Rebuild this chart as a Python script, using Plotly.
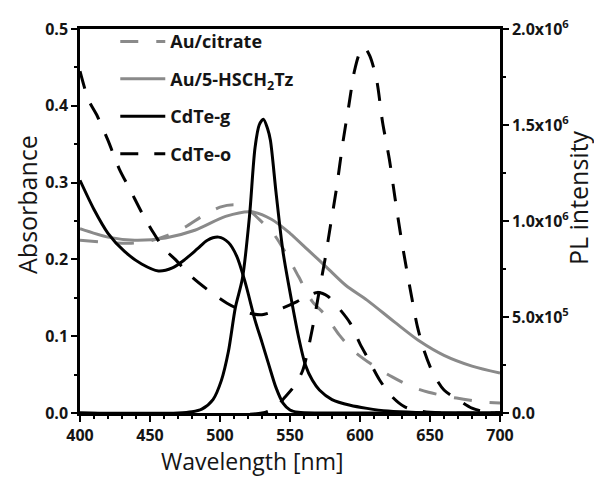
import plotly.graph_objects as go

# ---- data (wavelength nm, absorbance) ----
au_cit_x = [400, 420, 435, 450, 462, 475, 488, 500, 510, 518, 528, 538, 548, 556, 566, 575, 585, 596, 611, 623, 637, 649, 664, 674, 689, 700]
au_cit_y = [0.225, 0.222, 0.221, 0.224, 0.231, 0.242, 0.257, 0.268, 0.271, 0.268, 0.252, 0.234, 0.205, 0.178, 0.145, 0.128, 0.102, 0.080, 0.060, 0.047, 0.034, 0.027, 0.021, 0.018, 0.014, 0.013]

au_tz_x = [400, 420, 439, 461, 482, 504, 522, 537, 550, 563, 576, 590, 605, 625, 643, 660, 680, 700]
au_tz_y = [0.240, 0.229, 0.225, 0.228, 0.238, 0.256, 0.262, 0.252, 0.234, 0.212, 0.190, 0.166, 0.147, 0.118, 0.093, 0.075, 0.061, 0.052]

cdte_g_abs_x = [400, 410, 420, 432, 444, 456, 466, 475, 484, 491, 499, 506, 512, 518, 525, 530, 535, 540, 545, 550, 556, 570, 600, 700]
cdte_g_abs_y = [0.303, 0.265, 0.234, 0.210, 0.194, 0.185, 0.189, 0.200, 0.214, 0.225, 0.229, 0.222, 0.204, 0.170, 0.121, 0.092, 0.062, 0.033, 0.013, 0.004, 0.001, 0.0, 0.0, 0.0]

cdte_o_abs_x = [400, 406, 412, 420, 428, 436, 445, 452, 460, 468, 480, 493, 505, 519, 530, 545, 555, 563, 570, 577, 586, 593, 600, 606, 614, 623, 632, 645, 660, 700]
cdte_o_abs_y = [0.445, 0.408, 0.388, 0.355, 0.318, 0.290, 0.258, 0.236, 0.214, 0.200, 0.177, 0.158, 0.143, 0.131, 0.128, 0.137, 0.145, 0.153, 0.157, 0.152, 0.134, 0.117, 0.090, 0.070, 0.043, 0.021, 0.008, 0.002, 0.0, 0.0]

# ---- PL data (wavelength nm, PL intensity) ----
cdte_g_pl_x = [400, 470, 480, 487, 495, 501, 506, 511, 516, 521, 525, 528, 531, 534, 536, 540, 545, 551, 556, 561, 566, 571, 580, 593, 605, 620, 640, 700]
cdte_g_pl_y = [0, 0, 0.006e6, 0.02e6, 0.07e6, 0.17e6, 0.32e6, 0.55e6, 0.70e6, 1.02e6, 1.38e6, 1.50e6, 1.53e6, 1.48e6, 1.42e6, 1.15e6, 0.84e6, 0.59e6, 0.40e6, 0.25e6, 0.17e6, 0.12e6, 0.07e6, 0.04e6, 0.024e6, 0.01e6, 0.003e6, 0]

cdte_o_pl_x = [400, 530, 540, 546, 552, 559, 566, 571, 575, 579, 583, 588, 592, 596, 600, 603, 607, 612, 616, 621, 625, 629, 633, 637, 641, 646, 652, 660, 671, 680, 690, 700]
cdte_o_pl_y = [0, 0, 0.03e6, 0.08e6, 0.13e6, 0.22e6, 0.44e6, 0.64e6, 0.80e6, 0.98e6, 1.16e6, 1.42e6, 1.60e6, 1.78e6, 1.88e6, 1.905e6, 1.86e6, 1.73e6, 1.52e6, 1.32e6, 1.12e6, 0.93e6, 0.76e6, 0.60e6, 0.45e6, 0.32e6, 0.21e6, 0.12e6, 0.065e6, 0.025e6, 0.005e6, 0]

x_ticks = [400, 450, 500, 550, 600, 650, 700]
y_ticks = [0.0, 0.1, 0.2, 0.3, 0.4, 0.5]
y2_vals = [0, 5e5, 1e6, 1.5e6, 2e6]
y2_text = ["0.0", "5.0x10<sup>5</sup>", "1.0x10<sup>6</sup>", "1.5x10<sup>6</sup>", "2.0x10<sup>6</sup>"]

x_title = "Wavelength [nm]"
y_title = "Absorbance"
y2_title = "PL intensity"

GRAY = "#8a8a8a"
BLACK = "#000000"
TXT = "#151515"
FONT = "Open Sans"
LW = 3

fig = go.Figure()

fig.add_trace(go.Scatter(x=au_cit_x, y=au_cit_y, mode="lines", name="Au/citrate",
                         line=dict(color=GRAY, width=LW, dash="18px,18px", shape="spline", smoothing=0.8),
                         legendgroup="a"))
fig.add_trace(go.Scatter(x=au_tz_x, y=au_tz_y, mode="lines", name="Au/5-HSCH<sub>2</sub>Tz",
                         line=dict(color=GRAY, width=LW, shape="spline", smoothing=0.8),
                         legendgroup="b"))
fig.add_trace(go.Scatter(x=cdte_g_abs_x, y=cdte_g_abs_y, mode="lines", name="CdTe-g",
                         line=dict(color=BLACK, width=LW, shape="spline", smoothing=0.8),
                         legendgroup="c"))
fig.add_trace(go.Scatter(x=cdte_o_abs_x, y=cdte_o_abs_y, mode="lines", name="CdTe-o",
                         line=dict(color=BLACK, width=LW, dash="18px,16px", shape="spline", smoothing=0.8),
                         legendgroup="d"))
fig.add_trace(go.Scatter(x=cdte_g_pl_x, y=cdte_g_pl_y, mode="lines", name="CdTe-g PL", yaxis="y2",
                         line=dict(color=BLACK, width=LW, shape="spline", smoothing=0.8),
                         showlegend=False, legendgroup="c"))
fig.add_trace(go.Scatter(x=cdte_o_pl_x, y=cdte_o_pl_y, mode="lines", name="CdTe-o PL", yaxis="y2",
                         line=dict(color=BLACK, width=LW, dash="18px,16px", shape="spline", smoothing=0.8),
                         showlegend=False, legendgroup="d"))

tickfont = dict(family=FONT, size=16, color=TXT, weight="bold")

# axis titles (placed slightly off-centre, as in the original figure)
fig.add_annotation(text=x_title, xref="paper", yref="paper", x=0.4095, y=-0.125,
                   xanchor="center", yanchor="middle", showarrow=False,
                   font=dict(family=FONT, size=23, color=TXT))
fig.add_annotation(text=y_title, xref="paper", yref="paper", x=-0.126, y=0.542,
                   xanchor="center", yanchor="middle", showarrow=False, textangle=-90,
                   font=dict(family=FONT, size=25, color=TXT))
fig.add_annotation(text=y2_title, xref="paper", yref="paper", x=1.186, y=0.56,
                   xanchor="center", yanchor="middle", showarrow=False, textangle=-90,
                   font=dict(family=FONT, size=25, color=TXT))

# page body has an 8px margin; figure offset accordingly so the plot sits where the original does
fig.update_layout(
    width=594, height=470,
    margin=dict(l=72, r=102, t=21, b=65, autoexpand=False),
    paper_bgcolor="white", plot_bgcolor="white",
    showlegend=True,
    legend=dict(x=0.084, y=1.015, xanchor="left", yanchor="top",
                font=dict(family=FONT, size=18, color=TXT, weight="bold"),
                bgcolor="rgba(0,0,0,0)", tracegroupgap=11, itemwidth=45,
                traceorder="grouped"),
    xaxis=dict(range=[400, 700], tickvals=x_ticks, showgrid=False, zeroline=False, automargin=False,
               showline=True, linecolor=BLACK, linewidth=2.5, mirror=True,
               ticks="outside", ticklen=6, tickwidth=2, tickcolor=BLACK,
               minor=dict(dtick=10, ticks="outside", ticklen=3, tickwidth=1.5, tickcolor=BLACK),
               tickfont=tickfont),
    yaxis=dict(range=[0, 0.5], tickvals=y_ticks, tickformat=".1f", showgrid=False, zeroline=False,
               automargin=False,
               showline=True, linecolor=BLACK, linewidth=2.5,
               ticks="outside", ticklen=6, tickwidth=2, tickcolor=BLACK,
               minor=dict(dtick=0.05, ticks="outside", ticklen=3, tickwidth=1.5, tickcolor=BLACK),
               tickfont=tickfont),
    yaxis2=dict(range=[0, 2e6], overlaying="y", side="right", tickvals=y2_vals, ticktext=y2_text,
                showgrid=False, zeroline=False, automargin=False,
                showline=True, linecolor=BLACK, linewidth=2.5,
                ticks="outside", ticklen=6, tickwidth=2, tickcolor=BLACK,
                minor=dict(dtick=2.5e5, ticks="outside", ticklen=3, tickwidth=1.5, tickcolor=BLACK),
                tickfont=tickfont),
)

fig.write_html("out.html")
